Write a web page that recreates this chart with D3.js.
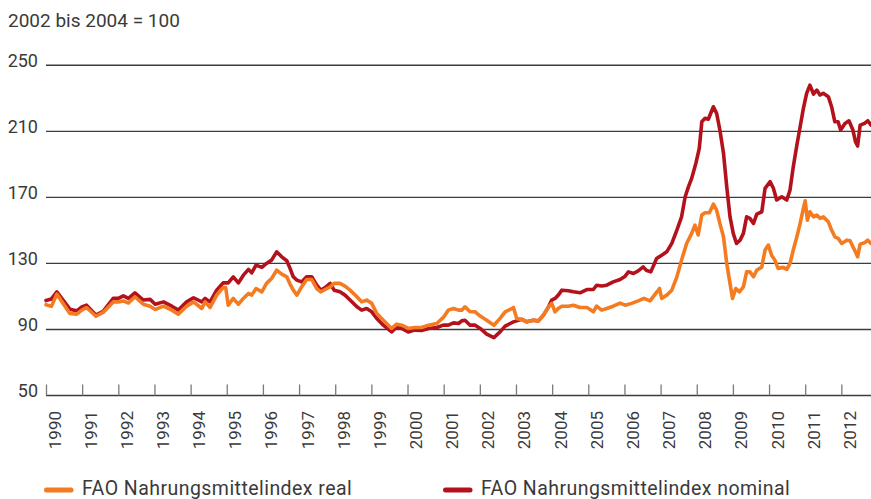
<!DOCTYPE html>
<html>
<head>
<meta charset="utf-8">
<script src="https://cdn.jsdelivr.net/npm/d3@7"></script>
<style>
  html, body { margin: 0; padding: 0; background: #fff; }
  svg { display: block; font-family: Roboto, "DejaVu Sans", sans-serif; }
</style>
</head>
<body>
<svg id="chart" width="871" height="499"></svg>
<script>
// ---- DATA ----
const yTicks = [50, 90, 130, 170, 210, 250];
const yearTicks = [1990,1991,1992,1993,1994,1995,1996,1997,1998,1999,2000,2001,2002,2003,2004,2005,2006,2007,2008,2009,2010,2011,2012];
const unitLabel = "2002 bis 2004 = 100";
const seriesNames = ["FAO Nahrungsmittelindex real", "FAO Nahrungsmittelindex nominal"];

const nominalDates = [1990.0,1990.15,1990.3,1990.66,1990.85,1990.99,1991.12,1991.38,1991.58,1991.86,1992.0,1992.14,1992.28,1992.46,1992.69,1992.88,1993.02,1993.25,1993.48,1993.66,1993.89,1994.08,1994.31,1994.4,1994.54,1994.72,1994.9,1995.04,1995.18,1995.32,1995.46,1995.6,1995.69,1995.81,1995.97,1996.1,1996.24,1996.38,1996.52,1996.66,1996.75,1996.84,1996.94,1997.07,1997.21,1997.35,1997.49,1997.6,1997.72,1997.86,1997.97,1998.13,1998.27,1998.41,1998.6,1998.73,1998.87,1999.01,1999.15,1999.33,1999.56,1999.7,1999.84,2000.02,2000.2,2000.39,2000.58,2000.81,2000.99,2001.13,2001.27,2001.41,2001.5,2001.59,2001.73,2001.87,2002.01,2002.19,2002.39,2002.56,2002.7,2002.84,2002.93,2003.02,2003.16,2003.3,2003.48,2003.62,2003.76,2003.9,2003.99,2004.08,2004.17,2004.27,2004.45,2004.59,2004.77,2004.96,2005.14,2005.23,2005.37,2005.51,2005.69,2005.88,2006.02,2006.11,2006.25,2006.38,2006.52,2006.6,2006.73,2006.89,2007.03,2007.17,2007.31,2007.45,2007.58,2007.68,2007.77,2007.86,2007.98,2008.07,2008.14,2008.23,2008.32,2008.46,2008.55,2008.64,2008.74,2008.83,2008.92,2009.01,2009.1,2009.2,2009.29,2009.38,2009.47,2009.57,2009.66,2009.8,2009.89,2010.03,2010.12,2010.21,2010.35,2010.49,2010.58,2010.67,2010.77,2010.86,2010.95,2011.04,2011.13,2011.23,2011.32,2011.41,2011.5,2011.64,2011.73,2011.82,2011.91,2011.98,2012.1,2012.21,2012.32,2012.39,2012.45,2012.52,2012.64,2012.73,2012.82];
const nominalValues = [107.5,108.5,112.8,102.3,101.3,103.7,104.7,98.7,101,108.8,108.8,110.4,108.8,112.2,107.8,108.2,105.3,106.7,104.1,101.7,106.7,109.2,106.7,108.8,106.7,113.8,118.2,118.2,121.9,118.2,122.9,126.4,124.3,129,127.6,130,132,137,134,131.6,127,121.9,119.9,118.8,121.9,121.9,116.8,113.8,115.4,117.9,113.8,112.8,110.8,107.8,103.7,101.7,102.7,100.7,96.7,92.6,88.5,91.6,90.6,88.5,89.6,89.4,90.6,91.2,92.6,92.6,94,93.6,95.2,95.6,92.6,92.6,90.6,87.2,85.1,88.5,92,93.6,94.6,95.2,96.1,94.6,95.6,95.2,98.7,103.7,107.8,108.8,110.8,113.8,113.4,112.8,112.2,114.2,114.2,116.8,116.3,116.8,118.8,120.3,122.3,124.9,123.9,125.5,127.9,125.9,124.9,133,135,137,142.1,150.2,158.2,170.4,176.4,181.5,191,199.7,215.8,217.9,217.3,224.9,220.9,210.8,196.7,176.4,158.2,148.2,142.1,144.1,148.2,158.2,157.3,154.2,159.9,161.3,175.5,179.5,175.5,168.4,170.4,168.4,174.4,188.5,201.7,212.8,223.9,233,238,232.6,235,232,233,231,224.9,215.8,215.8,210.8,214.8,216.4,210.8,203.7,201.1,213.8,214.8,216.4,213.8];

const realDates = [1990.0,1990.15,1990.3,1990.66,1990.85,1990.99,1991.12,1991.38,1991.58,1991.86,1992.0,1992.14,1992.28,1992.46,1992.69,1992.88,1993.02,1993.25,1993.48,1993.66,1993.89,1994.08,1994.31,1994.4,1994.54,1994.72,1994.9,1994.97,1995.04,1995.18,1995.32,1995.46,1995.6,1995.69,1995.81,1995.97,1996.1,1996.24,1996.38,1996.52,1996.66,1996.75,1996.84,1996.94,1997.07,1997.21,1997.35,1997.49,1997.6,1997.72,1997.86,1997.97,1998.13,1998.27,1998.41,1998.6,1998.73,1998.87,1999.01,1999.15,1999.33,1999.56,1999.7,1999.84,2000.02,2000.2,2000.39,2000.58,2000.81,2000.99,2001.13,2001.27,2001.41,2001.5,2001.59,2001.73,2001.87,2002.01,2002.19,2002.39,2002.56,2002.7,2002.84,2002.93,2003.02,2003.16,2003.3,2003.48,2003.62,2003.76,2003.9,2003.99,2004.08,2004.17,2004.27,2004.45,2004.59,2004.77,2004.96,2005.05,2005.14,2005.23,2005.37,2005.51,2005.69,2005.88,2006.02,2006.2,2006.38,2006.54,2006.71,2006.85,2006.97,2007.03,2007.17,2007.31,2007.45,2007.58,2007.72,2007.86,2007.95,2008.04,2008.14,2008.23,2008.35,2008.46,2008.55,2008.64,2008.74,2008.83,2008.92,2008.99,2009.08,2009.18,2009.29,2009.38,2009.47,2009.57,2009.66,2009.8,2009.89,2009.98,2010.07,2010.16,2010.25,2010.39,2010.49,2010.58,2010.67,2010.77,2010.86,2010.95,2011.0,2011.06,2011.13,2011.23,2011.32,2011.41,2011.5,2011.64,2011.73,2011.82,2011.91,2012.01,2012.15,2012.24,2012.32,2012.39,2012.45,2012.52,2012.64,2012.73,2012.82];
const realValues = [105,104,111.4,99.7,99.3,101.7,103.3,98,100.3,106.7,106.7,107.3,106,109.8,105.3,104.1,102.1,104.1,101.7,99.3,104.1,106.7,102.7,106.7,103.3,110.8,115.4,115.4,104.7,108.8,105.3,108.8,111.8,110.8,114.8,112.8,117.9,120.9,125.9,123.5,121.9,117.5,113.8,110.8,115.8,120.3,120.3,114.8,112.8,114.2,115.8,117.9,117.9,116.3,113.8,109.8,106.7,107.8,105.8,99.7,95.6,90.6,93.2,92.6,90.6,91.2,91.2,92.6,93.6,97.3,101.7,102.7,101.7,101.7,103.7,100.7,100.7,98.1,95.6,92.6,96.7,100.7,102.1,103.3,96.7,96.1,94.6,95.6,95.2,98.7,103.7,105.8,100.7,102.7,104.1,104.1,104.7,103.3,103.3,102.1,100.7,104.1,101.7,102.7,104.1,106,104.7,105.8,107.3,108.8,107.3,111.4,114.8,108.8,110.8,113.8,121.9,132,142.1,148.2,153.2,147.2,159.3,160.7,160.7,165.9,162.3,154.2,146.1,130,117.9,108.8,114.8,112.8,115.8,124.9,124.9,121.9,125.9,127.9,138.1,141.1,135,132,127,127.6,126.4,130,138.1,146.1,154.2,163.3,167.9,156.2,161.3,158.2,159.3,157.3,158.2,155.2,150.2,146.1,145.2,142.1,144.1,143.7,140.1,137,134,141.7,142.5,144.1,142.1];

// ---- STYLE ----
const colReal = "#f47b20";
const colNominal = "#b3121d";
const textCol = "#3a3a3a";

const svg = d3.select("#chart");
const x = d3.scaleLinear().domain([1990, 2012.82]).range([46, 871]);
const y = d3.scaleLinear().domain([50, 250]).range([395.5, 65.3]);

// title / unit
svg.append("text").attr("x", 8).attr("y", 27).attr("font-size", 19)
  .attr("fill", textCol).text(unitLabel);

// gridlines and y labels
const gy = svg.append("g");
gy.selectAll("line").data(yTicks.filter(d => d !== 50)).join("line")
  .attr("x1", 46).attr("x2", 871)
  .attr("y1", d => y(d)).attr("y2", d => y(d))
  .attr("stroke", "#3c3c3c").attr("stroke-width", 1.4);
gy.selectAll("text").data(yTicks).join("text")
  .attr("x", 38).attr("y", d => y(d) + 1.5)
  .attr("text-anchor", "end").attr("font-size", 18).attr("fill", textCol)
  .text(d => d);

// x axis via d3.axisTop at baseline
const xAxis = d3.axisTop(x).tickValues(yearTicks).tickSize(11).tickFormat("");
const gx = svg.append("g").attr("transform", `translate(0,${y(50)})`).call(xAxis);
gx.select(".domain").attr("stroke", "#3c3c3c").attr("stroke-width", 1.4)
  .attr("d", `M46,0H871`);
gx.selectAll(".tick line").attr("stroke", "#7a7a7a").attr("stroke-width", 1.3);

// year labels rotated
svg.append("g").selectAll("text").data(yearTicks).join("text")
  .attr("transform", d => `translate(${x(d) + 14.5},411) rotate(-90)`)
  .attr("text-anchor", "end").attr("font-size", 17).attr("fill", textCol)
  .text(d => d);

// lines
const line = d3.line().x(d => x(d[0])).y(d => y(d[1])).curve(d3.curveLinear);
const nominalData = nominalDates.map((d, i) => [d, nominalValues[i]]);
const realData = realDates.map((d, i) => [d, realValues[i]]);

svg.append("path").datum(nominalData).attr("d", line)
  .attr("fill", "none").attr("stroke", colNominal).attr("stroke-width", 3.6)
  .attr("stroke-linejoin", "round").attr("stroke-linecap", "round");
svg.append("path").datum(realData).attr("d", line)
  .attr("fill", "none").attr("stroke", colReal).attr("stroke-width", 3.6)
  .attr("stroke-linejoin", "round").attr("stroke-linecap", "round");

// legend
const legend = [
  { name: seriesNames[0], color: colReal, x: 44 },
  { name: seriesNames[1], color: colNominal, x: 443 }
];
const lg = svg.append("g").selectAll("g").data(legend).join("g")
  .attr("transform", d => `translate(${d.x},490)`);
lg.append("line").attr("x1", 2.5).attr("x2", 27).attr("y1", 0).attr("y2", 0)
  .attr("stroke", d => d.color).attr("stroke-width", 5).attr("stroke-linecap", "round");
lg.append("text").attr("x", 38).attr("y", 4.5).attr("font-size", 19.5)
  .attr("letter-spacing", 0.45).attr("fill", textCol)
  .text(d => d.name);
</script>
</body>
</html>
